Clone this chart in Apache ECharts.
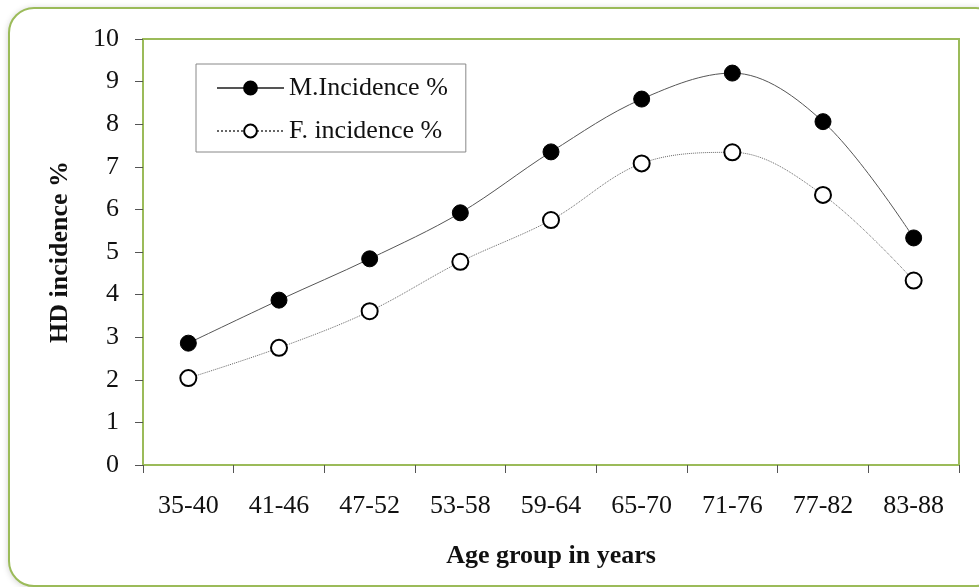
<!DOCTYPE html>
<html>
<head>
<meta charset="utf-8">
<script src="https://cdn.jsdelivr.net/npm/echarts@6/dist/echarts.min.js"></script>
<style>
  html, body { margin: 0; padding: 0; background: #fff; }
  #frame {
    position: absolute; left: 8px; top: 7px; width: 990px; height: 576px;
    border: 2px solid #9bbb59; border-radius: 26px;
    box-shadow: 0 1px 6px rgba(0,0,0,0.18);
    background: #fff;
  }
  #chart { position: absolute; left: 0; top: 0; width: 979px; height: 587px; }
</style>
</head>
<body>
<div id="frame"></div>
<div id="chart"></div>
<script>
var ageGroups = ['35-40', '41-46', '47-52', '53-58', '59-64', '65-70', '71-76', '77-82', '83-88'];
var maleIncidence = [2.86, 3.87, 4.84, 5.92, 7.35, 8.59, 9.2, 8.06, 5.33];
var femaleIncidence = [2.04, 2.75, 3.61, 4.77, 5.75, 7.08, 7.34, 6.34, 4.33];
var yTicks = [0, 10, 1]; // min, max, step

var serif = '"Liberation Serif", "Times New Roman", serif';

var chart = echarts.init(document.getElementById('chart'));
chart.setOption({
  animation: false,
  textStyle: { fontFamily: serif },
  grid: {
    left: 143, right: 20, top: 39, bottom: 122,
    show: true, borderColor: '#9bbb59', borderWidth: 2
  },
  legend: {
    orient: 'vertical',
    left: 196, top: 64,
    padding: [11, 18, 8, 20],
    itemGap: 17,
    itemWidth: 67, itemHeight: 16,
    borderColor: '#888', borderWidth: 1,
    textStyle: { fontFamily: serif, fontSize: 26, color: '#111' },
    data: ['M.Incidence %', 'F. incidence %']
  },
  xAxis: {
    type: 'category',
    data: ageGroups,
    boundaryGap: true,
    name: 'Age group in years',
    nameLocation: 'middle',
    nameGap: 78,
    nameTextStyle: { fontFamily: serif, fontSize: 26, fontWeight: 'bold', color: '#111' },
    axisLine: { lineStyle: { color: '#9bbb59', width: 2 } },
    axisTick: { show: true, length: 8, lineStyle: { color: '#555' } },
    axisLabel: { fontFamily: serif, fontSize: 26, color: '#111', margin: 28 },
    splitLine: { show: false }
  },
  yAxis: {
    type: 'value',
    min: yTicks[0], max: yTicks[1], interval: yTicks[2],
    name: 'HD incidence %',
    nameLocation: 'middle',
    nameGap: 70,
    nameTextStyle: { fontFamily: serif, fontSize: 26, fontWeight: 'bold', color: '#111' },
    axisLine: { show: true, lineStyle: { color: '#9bbb59', width: 2 } },
    axisTick: { show: true, length: 8, lineStyle: { color: '#555' } },
    axisLabel: { fontFamily: serif, fontSize: 26, color: '#111', margin: 24 },
    splitLine: { show: false }
  },
  series: [
    {
      name: 'M.Incidence %',
      type: 'line',
      data: maleIncidence,
      smooth: 0.35,
      symbol: 'circle',
      symbolSize: 16,
      itemStyle: { color: '#000', borderColor: '#000', borderWidth: 1 },
      lineStyle: { color: '#555', width: 1 }
    },
    {
      name: 'F. incidence %',
      type: 'line',
      data: femaleIncidence,
      smooth: 0.35,
      symbol: 'circle',
      symbolSize: 16,
      itemStyle: { color: '#fff', borderColor: '#000', borderWidth: 2 },
      lineStyle: { color: '#666', width: 1, type: 'dotted' }
    }
  ]
});
</script>
</body>
</html>
